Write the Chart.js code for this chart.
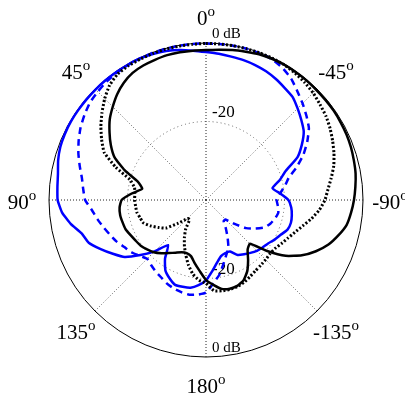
<!DOCTYPE html>
<html>
<head>
<meta charset="utf-8">
<script src="https://cdn.jsdelivr.net/npm/chart.js@4.4.0/dist/chart.umd.min.js"></script>
<style>
  html, body { margin: 0; padding: 0; background: #fff; }
</style>
</head>
<body>
<canvas id="pattern" width="405" height="399"></canvas>
<script>
// angle of each sample (deg, counter-clockwise from top); the radar walks clockwise
const angles = [0, -5, -10, -15, -20, -25, -30, -35, -40, -45, -50, -55, -60, -65, -70, -75, -80, -85,
  -90, -95, -100, -105, -110, -115, -120, -125, -130, -135, -140, -145, -150, -155, -160, -165, -170, -175,
  180, 175, 170, 165, 160, 155, 150, 145, 140, 135, 130, 125, 120, 115, 110, 105, 100, 95,
  90, 85, 80, 75, 70, 65, 60, 55, 50, 45, 40, 35, 30, 25, 20, 15, 10, 5];

// gain in dB, same order as angles
const blackSolid = [-1.8, -1.6, -1.2, -0.9, -0.5, -0.3, -0.2, -0.2, -0.2, -0.3, -0.3, -0.3, -0.4, -0.5, -0.7, -1.0, -1.3, -1.8,
  -2.3, -2.9, -3.6, -5.1, -6.8, -9.1, -11.8, -15.2, -19.9, -24.2, -23.5, -21.3, -19.0, -17.4, -16.7, -16.6, -17.0, -18.3,
  -19.6, -21.8, -23.6, -25.2, -25.6, -25.3, -24.5, -23.5, -22.3, -21.2, -20.4, -19.7, -19.3, -18.8, -18.2, -18.0, -17.8, -17.9,
  -18.5, -21.0, -23.5, -22.0, -18.0, -14.3, -12.0, -10.0, -8.0, -6.4, -4.8, -3.5, -2.6, -2.2, -2.0, -1.8, -1.8, -1.8];

const blackDotted = [-0.1, -0.1, -0.1, -0.1, -0.1, -0.1, -0.2, -0.5, -0.9, -1.4, -2.1, -2.7, -3.5, -4.4, -5.3, -6.3, -7.6, -8.8,
  -9.7, -11.0, -12.7, -14.5, -15.9, -17.0, -17.8, -18.5, -18.7, -18.5, -18.3, -18.0, -17.5, -16.9, -16.5, -16.4, -16.5, -16.8,
  -18.8, -19.5, -20.8, -22.8, -25.0, -27.0, -29.0, -31.0, -33.5, -33.3, -30.8, -27.5, -26.0, -24.4, -23.0, -22.6, -22.1, -22.0,
  -21.8, -21.8, -21.5, -19.9, -15.5, -11.4, -9.3, -7.3, -5.4, -3.5, -1.8, -0.8, -0.5, -0.4, -0.3, -0.2, -0.2, -0.2];

const blueSolid = [-2.3, -2.6, -2.9, -3.1, -3.4, -3.8, -4.4, -5.1, -5.7, -7.0, -8.3, -9.6, -11.8, -14.3, -18.4, -20.6, -22.8, -21.0,
  -19.0, -18.2, -17.8, -17.6, -17.9, -19.0, -19.8, -20.7, -21.2, -21.7, -22.4, -23.1, -23.8, -25.5, -25.6, -25.2, -23.8, -21.8,
  -19.5, -18.2, -17.3, -17.1, -17.0, -18.0, -19.3, -21.8, -25.0, -21.5, -18.2, -14.7, -12.6, -10.4, -8.2, -7.2, -5.0, -3.2,
  -2.2, -2.0, -1.7, -1.0, -0.5, -0.3, -0.2, -0.2, -0.2, -0.2, -0.2, -0.2, -0.2, -0.2, -0.4, -0.7, -1.2, -1.8];

const blueDashed = [-0.1, -0.1, -0.1, -0.1, -0.2, -0.4, -1.1, -2.2, -3.8, -5.2, -6.6, -8.0, -10.2, -12.6, -15.4, -18.2, -19.6, -21.1,
  -22.0, -21.6, -21.3, -21.8, -22.5, -23.5, -25.5, -27.5, -30.5, -33.0, -33.0, -31.2, -29.0, -26.5, -25.0, -23.0, -20.6, -18.7,
  -16.4, -15.8, -15.5, -15.7, -16.0, -16.5, -17.2, -17.7, -18.3, -18.8, -17.9, -16.8, -16.0, -14.9, -14.0, -13.0, -11.9, -10.8,
  -9.2, -8.6, -7.9, -6.7, -5.4, -4.2, -3.1, -2.2, -1.4, -1.0, -0.6, -0.4, -0.3, -0.2, -0.1, -0.1, -0.1, -0.1];

// labelled directions and ring labels
const directionLabels = [0, 45, 90, 135, 180, -135, -90, -45];
const ringLabels = [{ value: 0, text: '0 dB', size: 15 }, { value: -20, text: '-20', size: 17 }];

const serif = '"Liberation Serif", "Times New Roman", serif';

const labelsPlugin = {
  id: 'polarLabels',
  beforeDatasetsDraw(chart) {
    const r = chart.scales.r;
    const ctx = chart.ctx;
    ctx.save();
    ctx.fillStyle = '#000';
    ctx.textAlign = 'left';
    ctx.textBaseline = 'alphabetic';
    ringLabels.forEach(lab => {
      ctx.font = lab.size + 'px ' + serif;
      [0, angles.indexOf(180)].forEach(idx => {
        const p = r.getPointPositionForValue(idx, lab.value);
        ctx.fillText(lab.text, p.x + 6, p.y - 5);
      });
    });
    ctx.restore();
  },
  afterDraw(chart) {
    const r = chart.scales.r;
    const ctx = chart.ctx;
    ctx.save();
    ctx.fillStyle = '#000';
    ctx.textBaseline = 'alphabetic';
    ctx.textAlign = 'left';
    directionLabels.forEach(a => {
      const p = r.getPointPosition(angles.indexOf(a), r.drawingArea + 27);
      const main = String(a);
      ctx.font = '21px ' + serif;
      const w1 = ctx.measureText(main).width;
      ctx.font = '15px ' + serif;
      const w2 = ctx.measureText('o').width;
      const x0 = p.x - (w1 + w2) / 2;
      const cy = p.y + 2;
      ctx.font = '21px ' + serif;
      ctx.fillText(main, x0, cy + 7);
      ctx.font = '15px ' + serif;
      ctx.fillText('o', x0 + w1, cy - 2);
    });
    ctx.restore();
  }
};

function series(label, data, color, width, dash) {
  return {
    label: label,
    data: data,
    borderColor: color,
    backgroundColor: color,
    borderWidth: width,
    borderDash: dash,
    borderCapStyle: 'butt',
    borderJoinStyle: 'round',
    pointRadius: 0,
    pointHoverRadius: 0,
    fill: false,
    tension: 0.15
  };
}

new Chart(document.getElementById('pattern'), {
  type: 'radar',
  data: {
    labels: angles,
    datasets: [
      series('black solid', blackSolid, '#000000', 2.5, []),
      series('black dotted', blackDotted, '#000000', 3, [2, 2]),
      series('blue solid', blueSolid, '#0000ff', 2.5, []),
      series('blue dashed', blueDashed, '#0000ff', 2.5, [7, 5])
    ]
  },
  options: {
    responsive: false,
    animation: false,
    devicePixelRatio: 1,
    layout: { padding: { left: 49, right: 42, top: 43, bottom: 42 } },
    plugins: {
      legend: { display: false },
      title: { display: false },
      tooltip: { enabled: false }
    },
    scales: {
      r: {
        min: -40,
        max: 0,
        ticks: { display: false, stepSize: 20 },
        pointLabels: { display: false },
        grid: {
          circular: true,
          color: ctx => ctx.tick && ctx.tick.value === 0 ? '#000' : '#666',
          lineWidth: ctx => ctx.tick && ctx.tick.value === -40 ? 0 : 1
        },
        border: {
          dash: ctx => ctx.tick && ctx.tick.value === 0 ? [] : [1, 3]
        },
        angleLines: {
          color: ctx => ctx.index % 18 === 0 ? '#222' : '#666',
          lineWidth: ctx => ctx.index % 9 === 0 ? 1 : 0,
          borderDash: [1, 2]
        }
      }
    }
  },
  plugins: [labelsPlugin]
});
</script>
</body>
</html>
